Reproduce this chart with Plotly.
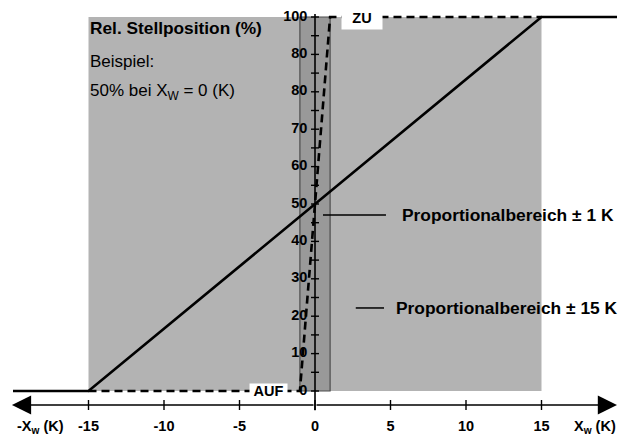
import plotly.graph_objects as go

# ---- data ----
solid_x = [-20, -15, 15, 20]
solid_y = [0, 0, 100, 100]
dashed_x = [-15, -1, 1, 15]
dashed_y = [0, 0, 100, 100]
wide_band = [-15, 15]
narrow_band = [-1, 1]
band_y = [0, 100]
x_ticks = [-15, -10, -5, 0, 5, 10, 15]
x_tick_labels = ["-15", "-10", "-5", "0", "5", "10", "15"]
y_minor_ticks = list(range(0, 101, 5))
y_ticks = [0, 10, 20, 30, 40, 50, 60, 70, 80, 90, 100]
y_tick_labels = ["0", "10", "20", "30", "40", "50", "60", "70", "80", "80", "100"]

FONT = "Liberation Sans, Arial, Helvetica, sans-serif"
AX_Y = -3.74        # position of the x-axis line in data units
PXX = 15.1          # px per x unit
PXY = 3.74          # px per y unit
W, H = 624, 427     # page has an 8px body margin

fig = go.Figure()

# background bands
fig.add_shape(type="rect", x0=wide_band[0], x1=wide_band[1], y0=band_y[0], y1=band_y[1],
              fillcolor="#b3b3b3", line=dict(width=0), layer="below")
fig.add_shape(type="rect", x0=narrow_band[0], x1=narrow_band[1], y0=band_y[0], y1=band_y[1],
              fillcolor="#999999", line=dict(color="#4d4d4d", width=1.2), layer="below")

# y axis line
fig.add_trace(go.Scatter(x=[0, 0], y=[AX_Y - 1.4, 100.8], mode="lines",
                         line=dict(color="black", width=1.6), hoverinfo="skip", showlegend=False))
# y ticks
tx, ty = [], []
for v in y_minor_ticks:
    tx += [-4 / PXX, 4 / PXX, None]
    ty += [v, v, None]
fig.add_trace(go.Scatter(x=tx, y=ty, mode="lines", line=dict(color="black", width=1.4),
                         hoverinfo="skip", showlegend=False))
# x ticks
tx, ty = [], []
for v in x_ticks:
    tx += [v, v, None]
    ty += [AX_Y - 5 / PXY, AX_Y + 5 / PXY, None]
fig.add_trace(go.Scatter(x=tx, y=ty, mode="lines", line=dict(color="black", width=1.4),
                         hoverinfo="skip", showlegend=False))

# curves
fig.add_trace(go.Scatter(x=dashed_x, y=dashed_y, mode="lines",
                         line=dict(color="black", width=2.6, dash="8px,5px"),
                         hoverinfo="skip", showlegend=False))
fig.add_trace(go.Scatter(x=solid_x, y=solid_y, mode="lines",
                         line=dict(color="black", width=2.6),
                         hoverinfo="skip", showlegend=False))

# pointer lines for labels
fig.add_trace(go.Scatter(x=[0.53, 4.7, None, 2.7, 4.57], y=[47.06, 47.06, None, 22.2, 22.2],
                         mode="lines", line=dict(color="black", width=1.5),
                         hoverinfo="skip", showlegend=False))

# tick labels
fig.add_trace(go.Scatter(x=x_ticks, y=[AX_Y - 22 / PXY] * len(x_ticks), mode="text",
                         text=["<b>%s</b>" % t for t in x_tick_labels],
                         textfont=dict(family=FONT, size=14.5, color="black"),
                         textposition="middle center", hoverinfo="skip", showlegend=False))
fig.add_trace(go.Scatter(x=[-0.5] * len(y_ticks), y=y_ticks, mode="text",
                         text=["<b>%s</b>" % t for t in y_tick_labels],
                         textfont=dict(family=FONT, size=14.5, color="black"),
                         textposition="middle left", hoverinfo="skip", showlegend=False))

# axis arrows
for xe in [-20.07, 20.0]:
    fig.add_annotation(x=xe, y=AX_Y, ax=0, ay=AX_Y, axref="x", ayref="y", xref="x", yref="y",
                       text="", showarrow=True, arrowhead=2, arrowsize=2.4, arrowwidth=1.6,
                       arrowcolor="black", standoff=0, startstandoff=0)

def txt(x, y, s, size=17, bold=True, xanchor="left", bg=None, **kw):
    fig.add_annotation(x=x, y=y, xref="x", yref="y", text=("<b>%s</b>" % s) if bold else s,
                       showarrow=False, xanchor=xanchor, yanchor="middle",
                       font=dict(family=FONT, size=size, color="black"),
                       bgcolor=bg, **kw)

txt(-15.05, 97.1, "Rel. Stellposition (%)", size=17.3)
txt(-15.05, 88.0, "Beispiel:", size=17, bold=False)
txt(-15.05, 79.9, "50% bei X<sub>W</sub> = 0 (K)", size=17, bold=False)
txt(5.63, 47.06, "Proportionalbereich ± 1 K", size=17.4)
txt(5.23, 22.2, "Proportionalbereich ± 15 K", size=17.4)
txt(-3.1, 0, "AUF", size=14.5, xanchor="center", bg="white", borderpad=0, width=37, height=14)
txt(3.1, 99.7, "ZU", size=14.5, xanchor="center", bg="white", borderpad=0, width=40, height=22)
txt(-19.9, AX_Y - 22 / PXY, "-X<sub>w</sub> (K)", size=14.5)
txt(17.0, AX_Y - 22 / PXY, "X<sub>w</sub> (K)", size=14.5)

x0 = -307 / PXX
y_top = 383 / PXY
fig.update_layout(
    width=W, height=H,
    margin=dict(l=0, r=0, t=0, b=0),
    paper_bgcolor="white", plot_bgcolor="white",
    xaxis=dict(range=[x0, x0 + W / PXX], visible=False, fixedrange=True),
    yaxis=dict(range=[y_top - H / PXY, y_top], visible=False, fixedrange=True),
    showlegend=False,
)

fig.write_html("out.html")
